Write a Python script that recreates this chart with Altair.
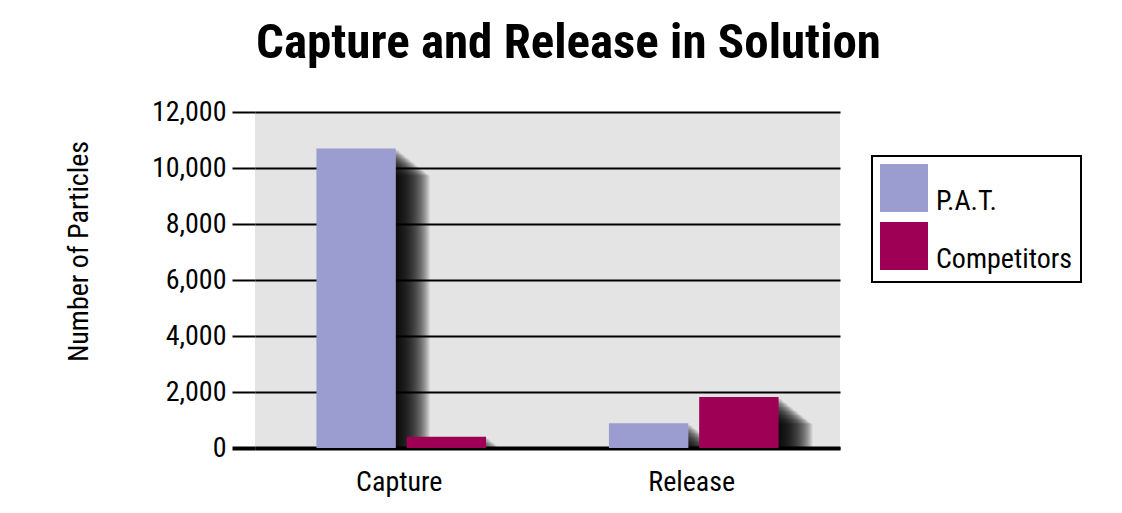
import altair as alt
import pandas as pd

groups = ["Capture", "Capture", "Release", "Release"]
series = ["P.A.T.", "Competitors", "P.A.T.", "Competitors"]
values = [10700, 400, 880, 1820]
group_order = ["Capture", "Release"]
series_order = ["P.A.T.", "Competitors"]
series_colors = ["#9b9ccf", "#9e0055"]
y_ticks = [0, 2000, 4000, 6000, 8000, 10000, 12000]
title_text = "Capture and Release in Solution"
y_title = "Number of Particles"

df = pd.DataFrame({"group": groups, "series": series, "value": values})

FONT = "Roboto Condensed, Liberation Sans Narrow, Liberation Sans, Arial, sans-serif"
FS = 28
W, H = 585, 336
PI, PO = 0.42, 0.21
BW = W / (len(group_order) - PI + 2 * PO) * (1 - PI)  # band width of a group

x_enc = alt.X(
    "group:N",
    sort=group_order,
    scale=alt.Scale(domain=group_order, paddingInner=PI, paddingOuter=PO),
    axis=alt.Axis(title=None, labelAngle=0, labelFontSize=FS, labelFont=FONT,
                  labelColor="black", labelPadding=20, labelOffset=-2,
                  ticks=False, domain=True, domainColor="black", domainWidth=4,
                  grid=False),
)
y_enc = alt.Y(
    "value:Q",
    scale=alt.Scale(domain=[0, 12000], nice=False),
    axis=alt.Axis(values=y_ticks, format=",d", title=y_title,
                  tickSize=23, tickColor="black",
                  tickWidth={"condition": {"test": "datum.value === 0", "value": 4},
                             "value": 2},
                  gridColor="black", gridWidth=2, gridOpacity=1, domain=False,
                  labelFontSize=FS, labelPadding=6, titleFontSize=28,
                  titleX=-162, titleY=139, titleAlign="center",
                  titleBaseline="bottom", titleAngle=270,
                  labelFont=FONT, titleFont=FONT,
                  titleFontWeight="normal", labelColor="black", titleColor="black"),
)


def off_enc(shift):
    return alt.XOffset(
        "series:N", sort=series_order,
        scale=alt.Scale(domain=series_order, range=[shift, BW + shift],
                        paddingInner=0.12, paddingOuter=0),
    )


# soft drop shadow built from stacked translucent copies of the bars
shadow_layers = []
for d in range(2, 35):
    shadow_layers.append(
        alt.Chart().mark_bar(color="black", opacity=0.07,
                             yOffset=round(d * 0.8), clip=True)
        .encode(x=x_enc, xOffset=off_enc(d), y=y_enc)
    )

bars = alt.Chart().mark_bar().encode(
    x=x_enc,
    xOffset=off_enc(0),
    y=y_enc,
    color=alt.Color(
        "series:N",
        sort=series_order,
        scale=alt.Scale(domain=series_order, range=series_colors),
        legend=alt.Legend(title=None, orient="none", legendX=617, legendY=44,
                          symbolType="square", symbolSize=2304, symbolStrokeWidth=0,
                          symbolOpacity=1,
                          labelFontSize=FS, labelFont=FONT, labelColor="black",
                          labelBaseline="top", labelOffset=8, rowPadding=6,
                          padding=8, strokeColor="black", fillColor="white"),
    ),
)

chart = alt.layer(*shadow_layers, bars, data=df).resolve_scale(
    xOffset="independent"
).properties(
    width=W, height=H,
    title=alt.TitleParams(title_text, fontSize=49, font=FONT, fontWeight="bold",
                          anchor="middle", offset=30, dx=21, color="black"),
    padding={"left": 57, "top": 11, "right": 5, "bottom": 2},
).configure_view(fill="#e4e4e4", strokeWidth=0).configure_legend(strokeWidth=2)

chart.save("out.html", embed_options={"renderer": "svg", "actions": False})
